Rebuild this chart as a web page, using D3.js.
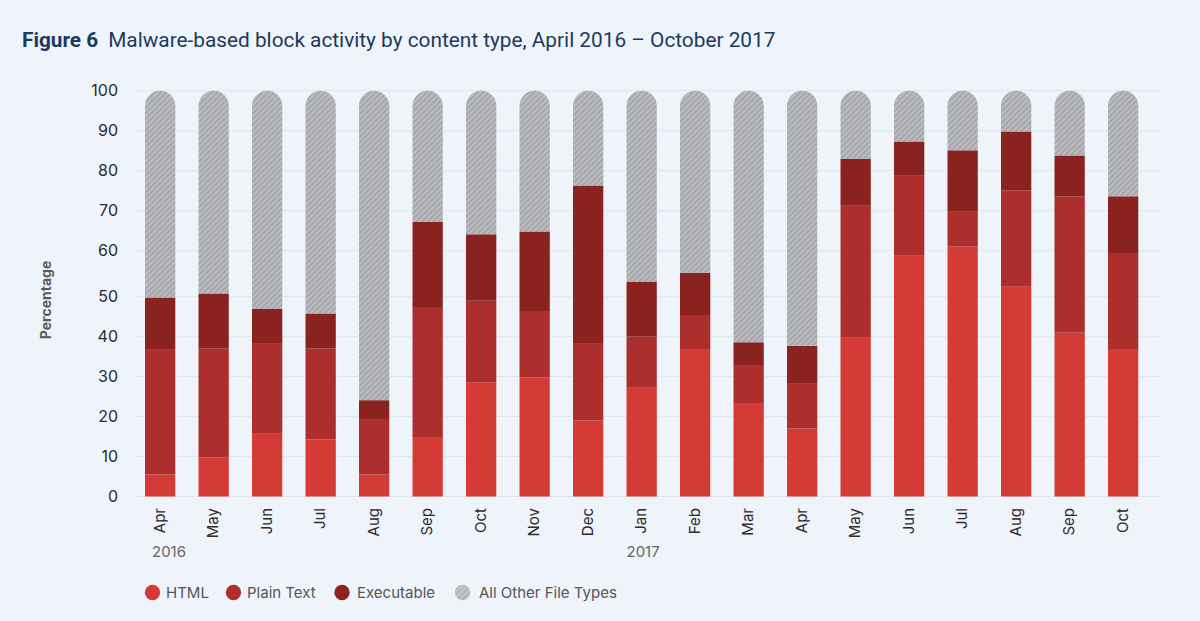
<!DOCTYPE html>
<html>
<head>
<meta charset="utf-8">
<script src="https://cdn.jsdelivr.net/npm/d3@7"></script>
<style>
  html, body { margin: 0; padding: 0; background: #eef4fa; }
  svg { display: block; }
</style>
</head>
<body>
<svg id="chart" width="1200" height="621"></svg>
<script>
// ---- Data ----
const months = ["Apr","May","Jun","Jul","Aug","Sep","Oct","Nov","Dec","Jan","Feb","Mar","Apr","May","Jun","Jul","Aug","Sep","Oct"];
const htmlVals      = [5.5, 9.8, 15.7, 14.3, 5.5, 14.7, 28.6, 29.8, 19.0, 27.2, 36.9, 23.4, 17.0, 39.9, 58.9, 61.1, 52.3, 41.0, 36.7];
const plainTextVals = [31.4, 27.2, 22.7, 22.8, 13.9, 32.5, 20.4, 16.4, 19.4, 12.8, 8.3, 9.3, 11.2, 31.5, 20.0, 8.8, 22.8, 32.6, 22.8];
const executableVals= [12.9, 13.7, 8.6, 8.7, 4.7, 20.0, 15.1, 18.6, 37.9, 13.2, 10.0, 5.9, 9.5, 11.6, 8.4, 15.2, 14.7, 10.2, 14.1];
const otherVals     = [50.2, 49.3, 53.0, 54.2, 75.9, 32.8, 35.9, 35.2, 23.7, 46.8, 44.8, 61.4, 62.3, 17.0, 12.7, 14.9, 10.2, 16.2, 26.4];
const seriesNames = ["HTML", "Plain Text", "Executable", "All Other File Types"];
const yTicks = [0,10,20,30,40,50,60,70,80,90,100];
const yearLabels = ["2016", "2017"];
const yearStartIndex = [0, 9];

// ---- Build table ----
const keys = ["html","plain","exec","other"];
const table = months.map((m, i) => ({
  idx: i, month: m,
  html: htmlVals[i], plain: plainTextVals[i], exec: executableVals[i], other: otherVals[i]
}));
const stacked = d3.stack().keys(keys)(table);

const colors = { html: "#d43b36", plain: "#ad2f2d", exec: "#8a2320", other: "url(#hatch)" };

const svg = d3.select("#chart");
const defs = svg.append("defs");
const pat = defs.append("pattern")
  .attr("id", "hatch").attr("patternUnits", "userSpaceOnUse")
  .attr("width", 4).attr("height", 4)
  .attr("patternTransform", "rotate(45)");
pat.append("rect").attr("width", 4).attr("height", 4).attr("fill", "#a7a8ac");
pat.append("line").attr("x1", 1).attr("y1", 0).attr("x2", 1).attr("y2", 4)
  .attr("stroke", "#cbccd0").attr("stroke-width", 1.1);

const patL = defs.append("pattern")
  .attr("id", "hatchL").attr("patternUnits", "userSpaceOnUse")
  .attr("width", 4).attr("height", 4)
  .attr("patternTransform", "rotate(45)");
patL.append("rect").attr("width", 4).attr("height", 4).attr("fill", "#b4b5b9");
patL.append("line").attr("x1", 1).attr("y1", 0).attr("x2", 1).attr("y2", 4)
  .attr("stroke", "#d2d3d6").attr("stroke-width", 1.1);

// ---- Scales ----
const x = d3.scaleBand()
  .domain(table.map(d => d.idx))
  .range([133.4, 1149.9])
  .paddingInner(0.434)
  .paddingOuter(0.217);

const y = d3.scaleLinear()
  .domain([0, 50, 60, 100])
  .range([496.5, 296.7, 250.7, 90.7]);

// ---- Title ----
const title = svg.append("text")
  .attr("x", 22).attr("y", 47)
  .attr("font-family", "Roboto, 'Noto Sans', sans-serif")
  .attr("font-size", 20.8)
  .attr("fill", "#1d3a5e");
title.append("tspan").attr("font-weight", "bold").text("Figure 6");
title.append("tspan").attr("dx", 10).text("Malware-based block activity by content type, April 2016 \u2013 October 2017");

// ---- Grid ----
svg.append("g").selectAll("line").data(yTicks).join("line")
  .attr("x1", 136).attr("x2", 1160)
  .attr("y1", d => y(d)).attr("y2", d => y(d))
  .attr("stroke", "#dde5ee").attr("stroke-width", 1);

// y tick labels
svg.append("g").selectAll("text").data(yTicks).join("text")
  .attr("x", 118).attr("y", d => y(d))
  .attr("dy", "0.36em")
  .attr("text-anchor", "end")
  .attr("font-family", "Inter, Roboto, sans-serif")
  .attr("font-size", 16)
  .attr("fill", "#2b2b2b")
  .text(d => d);

// y axis title
svg.append("text")
  .attr("transform", "translate(51,300) rotate(-90)")
  .attr("text-anchor", "middle")
  .attr("font-family", "Inter, Roboto, sans-serif")
  .attr("font-size", 14)
  .attr("font-weight", "bold")
  .attr("fill", "#5a5a5a")
  .text("Percentage");

// ---- Bars ----
const bw = x.bandwidth();
const r = bw / 2;
const gBars = svg.append("g");
stacked.forEach(layer => {
  const key = layer.key;
  const g = gBars.append("g");
  if (key === "other") {
    g.selectAll("path").data(layer).join("path")
      .attr("fill", colors.other)
      .attr("d", d => {
        const x0 = x(d.data.idx), yb = y(d[0]), yt = y(d[1]);
        return `M${x0},${yb}L${x0},${yt + r}A${r},${r} 0 0 1 ${x0 + bw},${yt + r}L${x0 + bw},${yb}Z`;
      });
  } else {
    g.selectAll("rect").data(layer).join("rect")
      .attr("x", d => x(d.data.idx))
      .attr("width", bw)
      .attr("y", d => y(d[1]))
      .attr("height", d => y(d[0]) - y(d[1]))
      .attr("fill", colors[key]);
  }
});

// ---- X labels ----
svg.append("g").selectAll("text").data(table).join("text")
  .attr("transform", d => `translate(${x(d.idx) + bw / 2 - 1},508) rotate(-90)`)
  .attr("dy", "0.36em")
  .attr("text-anchor", "end")
  .attr("font-family", "Inter, Roboto, sans-serif")
  .attr("font-size", 15)
  .attr("fill", "#2b2b2b")
  .text(d => d.month);

// year labels
svg.append("g").selectAll("text").data(yearLabels).join("text")
  .attr("x", (d, i) => x(yearStartIndex[i]) + (i === 0 ? 7 : 0))
  .attr("y", 557)
  .attr("font-family", "Inter, Roboto, sans-serif")
  .attr("font-size", 15)
  .attr("fill", "#666")
  .text(d => d);

// ---- Legend ----
const legendItems = [
  { name: seriesNames[0], fill: colors.html, cx: 152.5, tx: 166 },
  { name: seriesNames[1], fill: colors.plain, cx: 233.5, tx: 247 },
  { name: seriesNames[2], fill: colors.exec, cx: 342, tx: 357 },
  { name: seriesNames[3], fill: "url(#hatchL)", cx: 462.5, tx: 479 }
];
const lg = svg.append("g");
lg.selectAll("circle").data(legendItems).join("circle")
  .attr("cx", d => d.cx).attr("cy", 592.5).attr("r", 7.7)
  .attr("fill", d => d.fill);
lg.selectAll("text").data(legendItems).join("text")
  .attr("x", d => d.tx).attr("y", 592.5).attr("dy", "0.36em")
  .attr("font-family", "Inter, Roboto, sans-serif")
  .attr("font-size", 15)
  .attr("fill", "#555")
  .text(d => d.name);
</script>
</body>
</html>
